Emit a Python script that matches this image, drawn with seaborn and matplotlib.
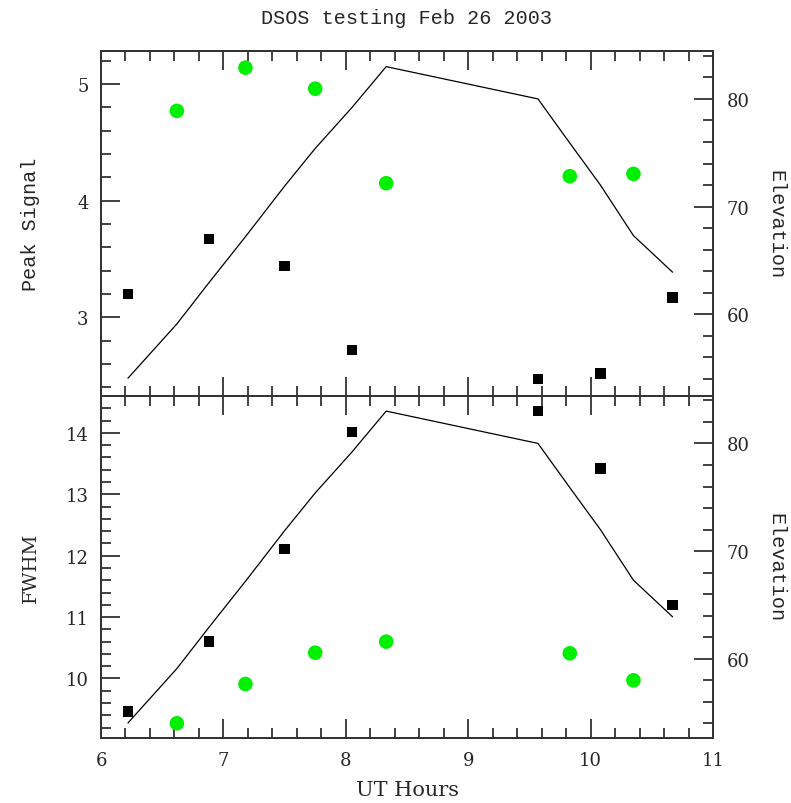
import numpy as np
import seaborn as sns
import matplotlib.pyplot as plt
from matplotlib.ticker import MultipleLocator

# --- data ---
hours_sq = [6.22, 6.88, 7.50, 8.05, 9.57, 10.08, 10.67]
peak_sq = [3.20, 3.67, 3.44, 2.72, 2.47, 2.52, 3.17]
fwhm_sq = [9.46, 10.60, 12.11, 14.01, 14.36, 13.42, 11.20]

hours_dot = [6.62, 7.18, 7.75, 8.33, 9.83, 10.35]
peak_dot = [4.77, 5.14, 4.96, 4.15, 4.21, 4.23]
fwhm_dot = [9.27, 9.91, 10.42, 10.60, 10.41, 9.97]

elev_hours = [6.22, 6.62, 6.88, 7.18, 7.50, 7.75, 8.05, 8.33, 9.57, 9.83, 10.08, 10.35, 10.67]
elevation = [54.05, 59.1, 62.9, 67.2, 71.9, 75.4, 79.2, 83.0, 80.0, 75.9, 72.0, 67.3, 63.9]

sns.set_style("ticks")
plt.rcParams['font.family'] = ['DejaVu Serif']
plt.rcParams['axes.linewidth'] = 1.3

mono = 'Liberation Mono'
green = '#00f000'

fig = plt.figure(figsize=(7.91, 8.04), dpi=100)
ax_top = fig.add_axes([0.1277, 0.5062, 0.7737, 0.4291])
ax_bot = fig.add_axes([0.1277, 0.0808, 0.7737, 0.4254])


def style_axes(ax, ax2, ymaj, ymin):
    ax.set_xlim(6, 11)
    ax.xaxis.set_major_locator(MultipleLocator(1))
    ax.xaxis.set_minor_locator(MultipleLocator(0.2))
    ax.yaxis.set_major_locator(MultipleLocator(ymaj))
    ax.yaxis.set_minor_locator(MultipleLocator(ymin))
    ax.tick_params(which='both', direction='in', top=True, right=False,
                   width=1.3, color='#333333', labelsize=13, pad=9)
    ax.tick_params(which='major', length=14)
    ax.tick_params(which='minor', length=7)
    ax2.yaxis.set_major_locator(MultipleLocator(10))
    ax2.yaxis.set_minor_locator(MultipleLocator(2))
    ax2.tick_params(which='both', direction='in', width=1.3, color='#333333',
                    labelsize=13, pad=10)
    ax2.tick_params(which='major', length=14)
    ax2.tick_params(which='minor', length=7)
    for s in list(ax.spines.values()) + list(ax2.spines.values()):
        s.set_color('#333333')


# --- top panel: peak signal ---
sns.scatterplot(x=hours_sq, y=peak_sq, marker='s', s=55, color='black',
                edgecolor='none', ax=ax_top, zorder=3)
sns.scatterplot(x=hours_dot, y=peak_dot, marker='o', s=110, color=green,
                edgecolor='none', ax=ax_top, zorder=3)
ax_top.set_ylim(2.326, 5.283)
ax_top2 = ax_top.twinx()
sns.lineplot(x=elev_hours, y=elevation, color='black', lw=0.9, sort=False,
             ax=ax_top2)
ax_top2.set_ylim(52.4, 84.45)
style_axes(ax_top, ax_top2, 1, 0.2)
ax_top.tick_params(labelbottom=False)
ax_top.set_ylabel('Peak Signal', family=mono, fontsize=14.5)
ax_top.yaxis.set_label_coords(-0.1, 0.5)
ax_top2.set_ylabel('Elevation', family=mono, fontsize=14.5, rotation=270, va='bottom')
ax_top2.yaxis.set_label_coords(1.088, 0.5)

# --- bottom panel: FWHM ---
sns.scatterplot(x=hours_sq, y=fwhm_sq, marker='s', s=55, color='black',
                edgecolor='none', ax=ax_bot, zorder=3)
sns.scatterplot(x=hours_dot, y=fwhm_dot, marker='o', s=110, color=green,
                edgecolor='none', ax=ax_bot, zorder=3)
ax_bot.set_ylim(9.03, 14.6)
ax_bot2 = ax_bot.twinx()
sns.lineplot(x=elev_hours, y=elevation, color='black', lw=0.9, sort=False,
             ax=ax_bot2)
ax_bot2.set_ylim(52.65, 84.4)
style_axes(ax_bot, ax_bot2, 1, 0.2)
ax_bot.set_ylabel('FWHM', fontsize=14)
ax_bot.yaxis.set_label_coords(-0.1, 0.5)
ax_bot2.set_ylabel('Elevation', family=mono, fontsize=14.5, rotation=270, va='bottom')
ax_bot2.yaxis.set_label_coords(1.088, 0.5)
ax_bot.set_xlabel('UT Hours', fontsize=15, labelpad=8)

fig.text(0.5145, 0.977, 'DSOS testing Feb 26 2003', family=mono, fontsize=14.5,
         ha='center', va='center')

plt.savefig('out.png', dpi=100, facecolor='white')
